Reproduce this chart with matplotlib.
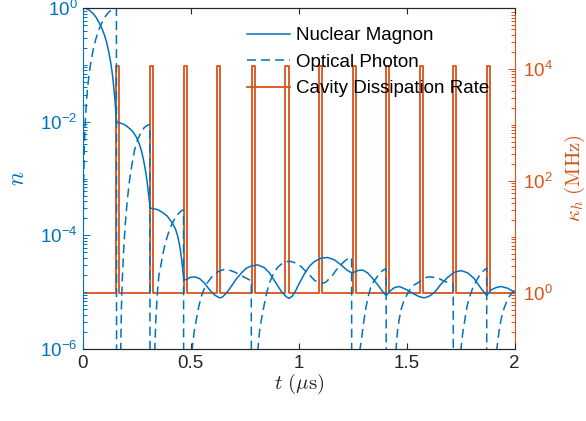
import numpy as np
import matplotlib
matplotlib.use("Agg")
import matplotlib.pyplot as plt
from matplotlib.ticker import FixedLocator, LogLocator, NullFormatter

plt.rcParams['font.family'] = ['Liberation Sans', 'DejaVu Sans']
plt.rcParams['mathtext.fontset'] = 'cm'

BLUE = '#0072BD'
ORANGE = '#D95319'
DARK = '#262626'

# nuclear magnon population, log10(n)
t_mag = [0.000, 0.015, 0.030, 0.045, 0.060, 0.075, 0.090, 0.100, 0.110, 0.120,
         0.130, 0.138, 0.144, 0.149, 0.153, 0.156, 0.168, 0.185, 0.200, 0.216,
         0.232, 0.247, 0.260, 0.270, 0.280, 0.290, 0.298, 0.306, 0.312, 0.326,
         0.347, 0.370, 0.390, 0.410, 0.428, 0.440, 0.450, 0.458, 0.464, 0.468,
         0.482, 0.495, 0.517, 0.540, 0.563, 0.587, 0.610, 0.633, 0.645, 0.664,
         0.687, 0.710, 0.735, 0.756, 0.780, 0.810, 0.841, 0.864, 0.888, 0.918,
         0.942, 0.955, 0.970, 0.985, 1.003, 1.026, 1.050, 1.073, 1.104, 1.134,
         1.165, 1.196, 1.220, 1.235, 1.250, 1.273, 1.296, 1.319, 1.343, 1.366,
         1.389, 1.405, 1.420, 1.443, 1.466, 1.497, 1.528, 1.559, 1.582, 1.605,
         1.628, 1.659, 1.690, 1.721, 1.752, 1.783, 1.813, 1.844, 1.871, 1.891,
         1.914, 1.937, 1.968, 2.000]
log_mag = [0.00, -0.01, -0.04, -0.09, -0.16, -0.26, -0.38, -0.48, -0.61, -0.78,
           -0.99, -1.22, -1.44, -1.66, -1.88, -2.01, -2.02, -2.04, -2.07, -2.12,
           -2.18, -2.27, -2.38, -2.50, -2.66, -2.87, -3.08, -3.35, -3.52, -3.53,
           -3.55, -3.60, -3.66, -3.76, -3.88, -4.03, -4.22, -4.45, -4.66, -4.78,
           -4.78, -4.74, -4.73, -4.76, -4.84, -4.96, -5.05, -5.10, -5.09, -5.02,
           -4.90, -4.77, -4.66, -4.58, -4.54, -4.52, -4.57, -4.66, -4.80, -4.98,
           -5.08, -5.11, -5.07, -4.98, -4.84, -4.68, -4.54, -4.46, -4.40, -4.39,
           -4.43, -4.52, -4.60, -4.64, -4.66, -4.62, -4.61, -4.66, -4.76, -4.87,
           -4.99, -5.06, -4.99, -4.92, -4.90, -4.95, -5.02, -5.08, -5.10, -5.07,
           -5.01, -4.86, -4.74, -4.65, -4.62, -4.66, -4.76, -4.93, -5.06, -4.96,
           -4.92, -4.90, -4.93, -5.00]

# optical photon population, log10(n); -9 means below the axis (emptied cavity)
t_pho = [0.000, 0.001, 0.003, 0.006, 0.010, 0.016, 0.022, 0.030, 0.037, 0.047,
         0.060, 0.075, 0.090, 0.105, 0.120, 0.135, 0.150, 0.155, 0.156,
         0.172, 0.175, 0.178, 0.182, 0.188, 0.195, 0.205, 0.215, 0.225, 0.239,
         0.255, 0.270, 0.285, 0.300, 0.310, 0.311,
         0.327, 0.333, 0.338, 0.345, 0.352, 0.360, 0.370, 0.380, 0.395, 0.410,
         0.425, 0.440, 0.455, 0.466, 0.467,
         0.482, 0.495, 0.506, 0.515, 0.525, 0.537, 0.548, 0.563, 0.579, 0.600,
         0.625, 0.645, 0.664, 0.685, 0.705, 0.730, 0.755, 0.780, 0.781,
         0.797, 0.805, 0.811, 0.818, 0.826, 0.841, 0.852, 0.864, 0.876, 0.888,
         0.903, 0.918, 0.935, 0.949, 0.965, 0.980, 0.995, 1.011, 1.026, 1.042,
         1.058, 1.073, 1.090, 1.104, 1.115, 1.127, 1.142, 1.157, 1.172, 1.188,
         1.205, 1.220, 1.235, 1.245, 1.246,
         1.265, 1.278, 1.284, 1.290, 1.296, 1.304, 1.312, 1.323, 1.335, 1.346,
         1.358, 1.370, 1.381, 1.397, 1.405, 1.406,
         1.420, 1.440, 1.451, 1.458, 1.466, 1.474, 1.485, 1.497, 1.510, 1.525,
         1.540, 1.551, 1.570, 1.590, 1.610, 1.628, 1.651, 1.670, 1.690, 1.705,
         1.716, 1.717,
         1.731, 1.745, 1.752, 1.759, 1.767, 1.775, 1.783, 1.795, 1.806, 1.818,
         1.829, 1.840, 1.852, 1.860, 1.871, 1.872,
         1.887, 1.908, 1.918, 1.923, 1.929, 1.937, 1.944, 1.952, 1.960, 1.968,
         1.975, 1.985, 1.994, 2.000]
log_pho = [-9, -4.0, -3.1, -2.5, -2.05, -1.65, -1.38, -1.12, -0.94, -0.74,
           -0.54, -0.37, -0.24, -0.14, -0.07, -0.03, -0.005, 0.0, -9,
           -9, -6.0, -5.3, -4.8, -4.3, -3.85, -3.4, -3.05, -2.8, -2.5,
           -2.3, -2.18, -2.10, -2.06, -2.05, -9,
           -9, -6.0, -5.45, -5.0, -4.7, -4.55, -4.33, -4.16, -3.97, -3.82,
           -3.71, -3.63, -3.57, -3.55, -9,
           -9, -7.0, -6.0, -5.7, -5.49, -5.25, -5.08, -4.93, -4.82, -4.72,
           -4.64, -4.61, -4.60, -4.62, -4.65, -4.70, -4.75, -4.80, -9,
           -9, -7.0, -6.0, -5.7, -5.5, -5.2, -5.0, -4.84, -4.73, -4.64,
           -4.56, -4.51, -4.47, -4.46, -4.46, -4.48, -4.51, -4.55, -4.61, -4.67,
           -4.73, -4.79, -4.83, -4.84, -4.84, -4.82, -4.76, -4.70, -4.62, -4.55,
           -4.48, -4.43, -4.40, -4.39, -9,
           -9, -7.0, -6.0, -5.85, -5.67, -5.45, -5.26, -5.06, -4.90, -4.82,
           -4.76, -4.69, -4.64, -4.60, -4.59, -9,
           -9, -7.0, -6.0, -5.67, -5.47, -5.31, -5.18, -5.08, -4.98, -4.90,
           -4.86, -4.84, -4.78, -4.74, -4.73, -4.74, -4.76, -4.80, -4.83, -4.84,
           -4.85, -9,
           -9, -7.0, -6.0, -5.75, -5.55, -5.36, -5.20, -5.05, -4.93, -4.84,
           -4.76, -4.69, -4.64, -4.61, -4.58, -9,
           -9, -7.0, -6.0, -5.85, -5.67, -5.50, -5.37, -5.28, -5.20, -5.13,
           -5.08, -5.03, -4.99, -4.97]

# cavity dissipation pulses (start times in us), width and levels in MHz
pulse_on = [0.153, 0.310, 0.466, 0.622, 0.782, 0.938, 1.092, 1.250, 1.405,
            1.562, 1.716, 1.872]
pulse_width = 0.015
kappa_low = 1.0
kappa_high = 1.1e4

# step curve for kappa_h
t_k = [0.0]
k_h = [kappa_low]
for on in pulse_on:
    t_k += [on, on, on + pulse_width, on + pulse_width]
    k_h += [kappa_low, kappa_high, kappa_high, kappa_low]
t_k.append(2.0)
k_h.append(kappa_low)

fig = plt.figure(figsize=(5.86, 4.21), dpi=100)
ax = fig.add_axes([0.1416, 0.171, 0.7364, 0.810])
ax2 = ax.twinx()

l3, = ax2.plot(t_k, k_h, color=ORANGE, lw=1.3, label='Cavity Dissipation Rate')
l1, = ax.plot(t_mag, 10 ** np.array(log_mag), color=BLUE, lw=1.1,
              label='Nuclear Magnon')
l2, = ax.plot(t_pho, 10 ** np.array(log_pho), color=BLUE, lw=1.1,
              ls=(0, (5.9, 3.3)), label='Optical Photon')

ax.set_zorder(ax2.get_zorder() + 1)
ax.patch.set_visible(False)

TICK_FS = 13.5

ax.set_xlim(0, 2)
ax.set_xticks([0, 0.5, 1, 1.5, 2])
ax.set_xticklabels(['0', '0.5', '1', '1.5', '2'])

ax.set_yscale('log')
ax.set_ylim(1e-6, 1)
ax.yaxis.set_major_locator(FixedLocator([1e-6, 1e-4, 1e-2, 1]))
ax.set_yticklabels([r'$\mathregular{10^{-6}}$', r'$\mathregular{10^{-4}}$',
                    r'$\mathregular{10^{-2}}$', r'$\mathregular{10^{0}}$'])
ax.yaxis.set_minor_locator(LogLocator(base=10, subs=np.arange(1, 10), numticks=50))
ax.yaxis.set_minor_formatter(NullFormatter())

ax2.set_yscale('log')
ax2.set_ylim(0.1, 1.2e5)
ax2.yaxis.set_major_locator(FixedLocator([1, 1e2, 1e4]))
ax2.set_yticklabels([r'$\mathregular{10^{0}}$', r'$\mathregular{10^{2}}$',
                     r'$\mathregular{10^{4}}$'])
ax2.yaxis.set_minor_locator(LogLocator(base=10, subs=np.arange(1, 10), numticks=50))
ax2.yaxis.set_minor_formatter(NullFormatter())

for a in (ax, ax2):
    a.spines['top'].set_color(DARK)
    a.spines['bottom'].set_color(DARK)
    a.spines['top'].set_linewidth(0.8)
    a.spines['bottom'].set_linewidth(0.8)
ax.spines['right'].set_visible(False)
ax2.spines['left'].set_visible(False)
ax.spines['left'].set_color(BLUE)
ax2.spines['right'].set_color(ORANGE)

ax.tick_params(axis='x', which='both', direction='in', top=True, colors=DARK,
               labelsize=TICK_FS, length=4, width=0.8, pad=4)
ax.tick_params(axis='y', which='both', direction='in', right=False, colors=BLUE,
               labelsize=TICK_FS, width=0.7, pad=4)
ax.tick_params(axis='y', which='major', length=5)
ax.tick_params(axis='y', which='minor', length=3)
ax2.tick_params(axis='y', which='both', direction='in', colors=ORANGE,
                labelsize=TICK_FS, width=0.7, pad=6)
ax2.tick_params(axis='y', which='major', length=5)
ax2.tick_params(axis='y', which='minor', length=3)

ax.set_xlabel(r'$t\ (\mu\mathrm{s})$', fontsize=15, color=DARK)
ax.xaxis.set_label_coords(0.5, -0.066)
ax.set_ylabel(r'$n$', fontsize=17, color=BLUE)
ax.yaxis.set_label_coords(-0.125, 0.5)
ax2.set_ylabel(r'$\kappa_h\ (\mathrm{MHz})$', fontsize=15, color=ORANGE)
ax2.yaxis.set_label_coords(1.112, 0.5)

ax.legend(handles=[l1, l2, l3], loc='upper left', bbox_to_anchor=(0.4215, 0.935),
          bbox_transform=fig.transFigure, frameon=False, fontsize=TICK_FS,
          borderpad=0, borderaxespad=0, handlelength=2.3, handletextpad=0.32,
          labelspacing=0.5)

fig.savefig('out.png', dpi=100)
